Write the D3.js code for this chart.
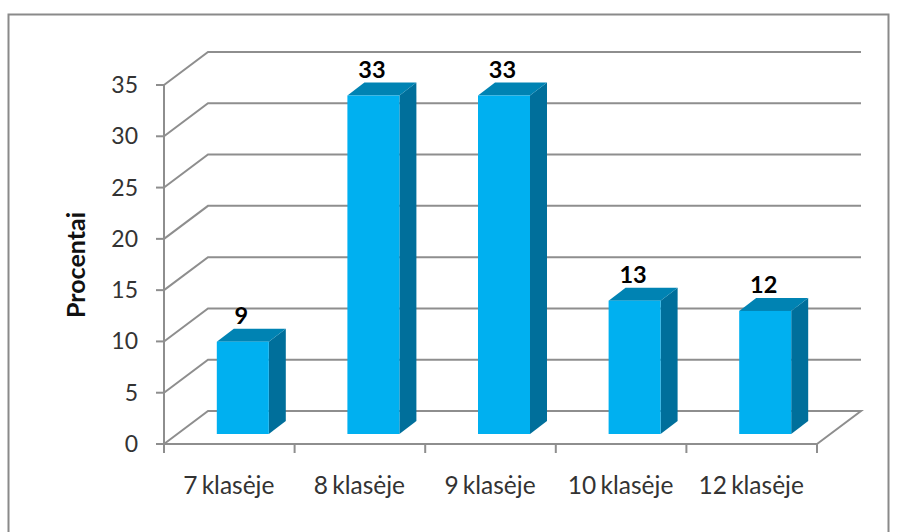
<!DOCTYPE html>
<html><head><meta charset="utf-8">
<script src="https://cdn.jsdelivr.net/npm/d3@7/dist/d3.min.js"></script>
<style>html,body{margin:0;padding:0;background:#fff}svg{display:block}text{font-family:Lato,"Open Sans",sans-serif}</style>
</head><body><svg id="c" width="900" height="532"></svg>
<script>
const categories=["7 klasėje","8 klasėje","9 klasėje","10 klasėje","12 klasėje"];
const values=[9,33,33,13,12];
const yTicks=[0,5,10,15,20,25,30,35];
const yTitle="Procentai";
const svg=d3.select("#c");
const y=d3.scaleLinear().domain([0,35]).range([444,85]);
const x=d3.scaleBand().domain(categories).range([164,817]);
const depth={dx:44,dy:-33};
const gridC="#8e8e8e";
svg.append("path").attr("d","M8.5,532V14.5H888.5V532").attr("fill","none").attr("stroke","#8a8a8a").attr("stroke-width",2);
const grid=svg.append("g").attr("fill","none").attr("stroke",gridC).attr("stroke-width",2);
yTicks.forEach(t=>{
  const p=d3.path();
  p.moveTo(164,y(t));p.lineTo(164+depth.dx,y(t)+depth.dy);p.lineTo(817+depth.dx,y(t)+depth.dy);
  if(t===0){p.lineTo(817,y(0));}
  grid.append("path").attr("d",p.toString());
});
const ax=svg.append("g").attr("stroke",gridC).attr("stroke-width",2);
ax.append("line").attr("x1",164).attr("x2",164).attr("y1",y(35)).attr("y2",y(0)+9);
ax.append("line").attr("x1",156).attr("x2",817).attr("y1",y(0)).attr("y2",y(0));
yTicks.forEach(t=>ax.append("line").attr("x1",156).attr("x2",164).attr("y1",y(t)).attr("y2",y(t)));
categories.forEach(c=>{const e=x(c)+x.bandwidth();ax.append("line").attr("x1",e).attr("x2",e).attr("y1",y(0)).attr("y2",y(0)+9);});
svg.append("g").selectAll("text").data(yTicks).join("text")
 .attr("x",138).attr("y",d=>y(d)+8).attr("text-anchor","end").attr("font-size",23).attr("fill","#333").text(d=>d);
svg.append("g").selectAll("text").data(categories).join("text")
 .attr("x",c=>x(c)+x.bandwidth()/2-0.5).attr("y",494).attr("text-anchor","middle").attr("font-size",24.5).attr("word-spacing",-2).attr("fill","#333").text(c=>c);
svg.append("text").attr("transform","translate(85,265) rotate(-90)").attr("text-anchor","middle").attr("font-size",25).attr("font-weight",700).attr("fill","#111").text(yTitle);
const bw=52,fx=13.5,fy=-10,bdx=17,bdy=-13;
const g=svg.append("g");
categories.forEach((c,i)=>{
  const v=values[i];
  const l=x(c)+x.bandwidth()/2+fx-bw/2,r=l+bw,b=y(0)+fy,t=y(v)+fy;
  g.append("path").attr("d",`M${r},${t}L${r+bdx},${t+bdy}V${b+bdy}L${r},${b}Z`).attr("fill","#006f9b");
  g.append("path").attr("d",`M${l},${t}L${l+bdx},${t+bdy}H${r+bdx}L${r},${t}Z`).attr("fill","#0083b3");
  g.append("rect").attr("x",l).attr("y",t).attr("width",bw).attr("height",b-t).attr("fill","#00b0f0");
  g.append("text").attr("x",l+bw/2-1.5).attr("y",t-18).attr("text-anchor","middle").attr("font-size",23.5).attr("font-weight",700).attr("fill","#000").text(v);
});
</script></body></html>
